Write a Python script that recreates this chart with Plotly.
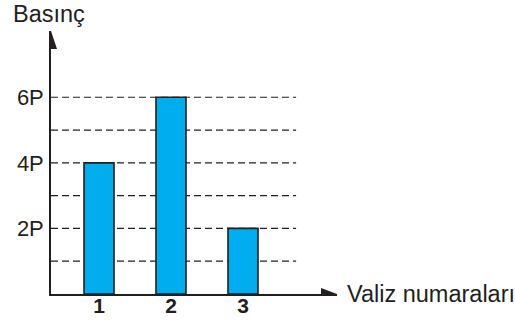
import plotly.graph_objects as go

# Pressure (in units of P) measured for each suitcase
valiz = [1, 2, 3]
basinc = [4, 6, 2]
y_ticks = [2, 4, 6]
y_tick_text = ["2P", "4P", "6P"]
grid_levels = [1, 2, 3, 4, 5, 6]

INK = "#231f20"
BAR = "#00aeef"
FONT = "Liberation Sans, Arial, sans-serif"

W, H = 515, 322
L, R, T, B = 51, 178, 31, 28
X_RANGE = [0.333, 4.306]
Y_RANGE = [0, 8.02]

fig = go.Figure()
fig.add_trace(go.Bar(
    x=valiz, y=basinc, width=0.417,
    marker=dict(color=BAR, line=dict(color=INK, width=1.6)),
    hoverinfo="skip",
))

shapes = []
# dashed reference lines at each P level
for g in grid_levels:
    shapes.append(dict(type="line", xref="paper", yref="y", x0=0, x1=0.857,
                       y0=g, y1=g, layer="below",
                       line=dict(color=INK, width=1.2, dash="7px,4px")))
# arrowheads on both axes
shapes.append(dict(type="path", xref="x", yref="y", xsizemode="pixel", ysizemode="pixel",
                   xanchor=X_RANGE[0], yanchor=Y_RANGE[1],
                   path="M -6 -18 L 6 -18 L 0 0 Z", fillcolor=INK, line=dict(width=0)))
shapes.append(dict(type="path", xref="x", yref="y", xsizemode="pixel", ysizemode="pixel",
                   xanchor=X_RANGE[1], yanchor=0,
                   path="M -16 -6 L -16 6 L 0 0 Z", fillcolor=INK, line=dict(width=0)))

fig.update_layout(
    width=W, height=H,
    margin=dict(l=L, r=R, t=T, b=B, pad=0, autoexpand=False),
    paper_bgcolor="white", plot_bgcolor="rgba(0,0,0,0)",
    showlegend=False,
    shapes=shapes,
    xaxis=dict(range=X_RANGE, tickvals=valiz,
               ticktext=[f"<b>{v}</b>" for v in valiz],
               tickfont=dict(family=FONT, size=21, color=INK),
               ticks="", showgrid=False, zeroline=False,
               showline=True, linecolor=INK, linewidth=1.6,
               ticklabelstandoff=-8, automargin=False, fixedrange=True),
    yaxis=dict(range=Y_RANGE, tickvals=y_ticks, ticktext=y_tick_text,
               tickfont=dict(family=FONT, size=22, color=INK),
               ticks="", showgrid=False, zeroline=False,
               showline=True, linecolor=INK, linewidth=1.6,
               ticklabelstandoff=1, automargin=False, fixedrange=True),
    annotations=[
        dict(text="Basınç", xref="paper", yref="paper",
             x=(11 - L) / (W - L - R), y=1 + (T - 14) / (H - T - B),
             xanchor="left", yanchor="middle", showarrow=False,
             font=dict(family=FONT, size=23.5, color=INK)),
        dict(text="Valiz numaraları", xref="paper", yref="y",
             x=(345 - L) / (W - L - R), y=0,
             xanchor="left", yanchor="middle", showarrow=False,
             font=dict(family=FONT, size=23.5, color=INK)),
    ],
)

fig.write_html("out.html")
